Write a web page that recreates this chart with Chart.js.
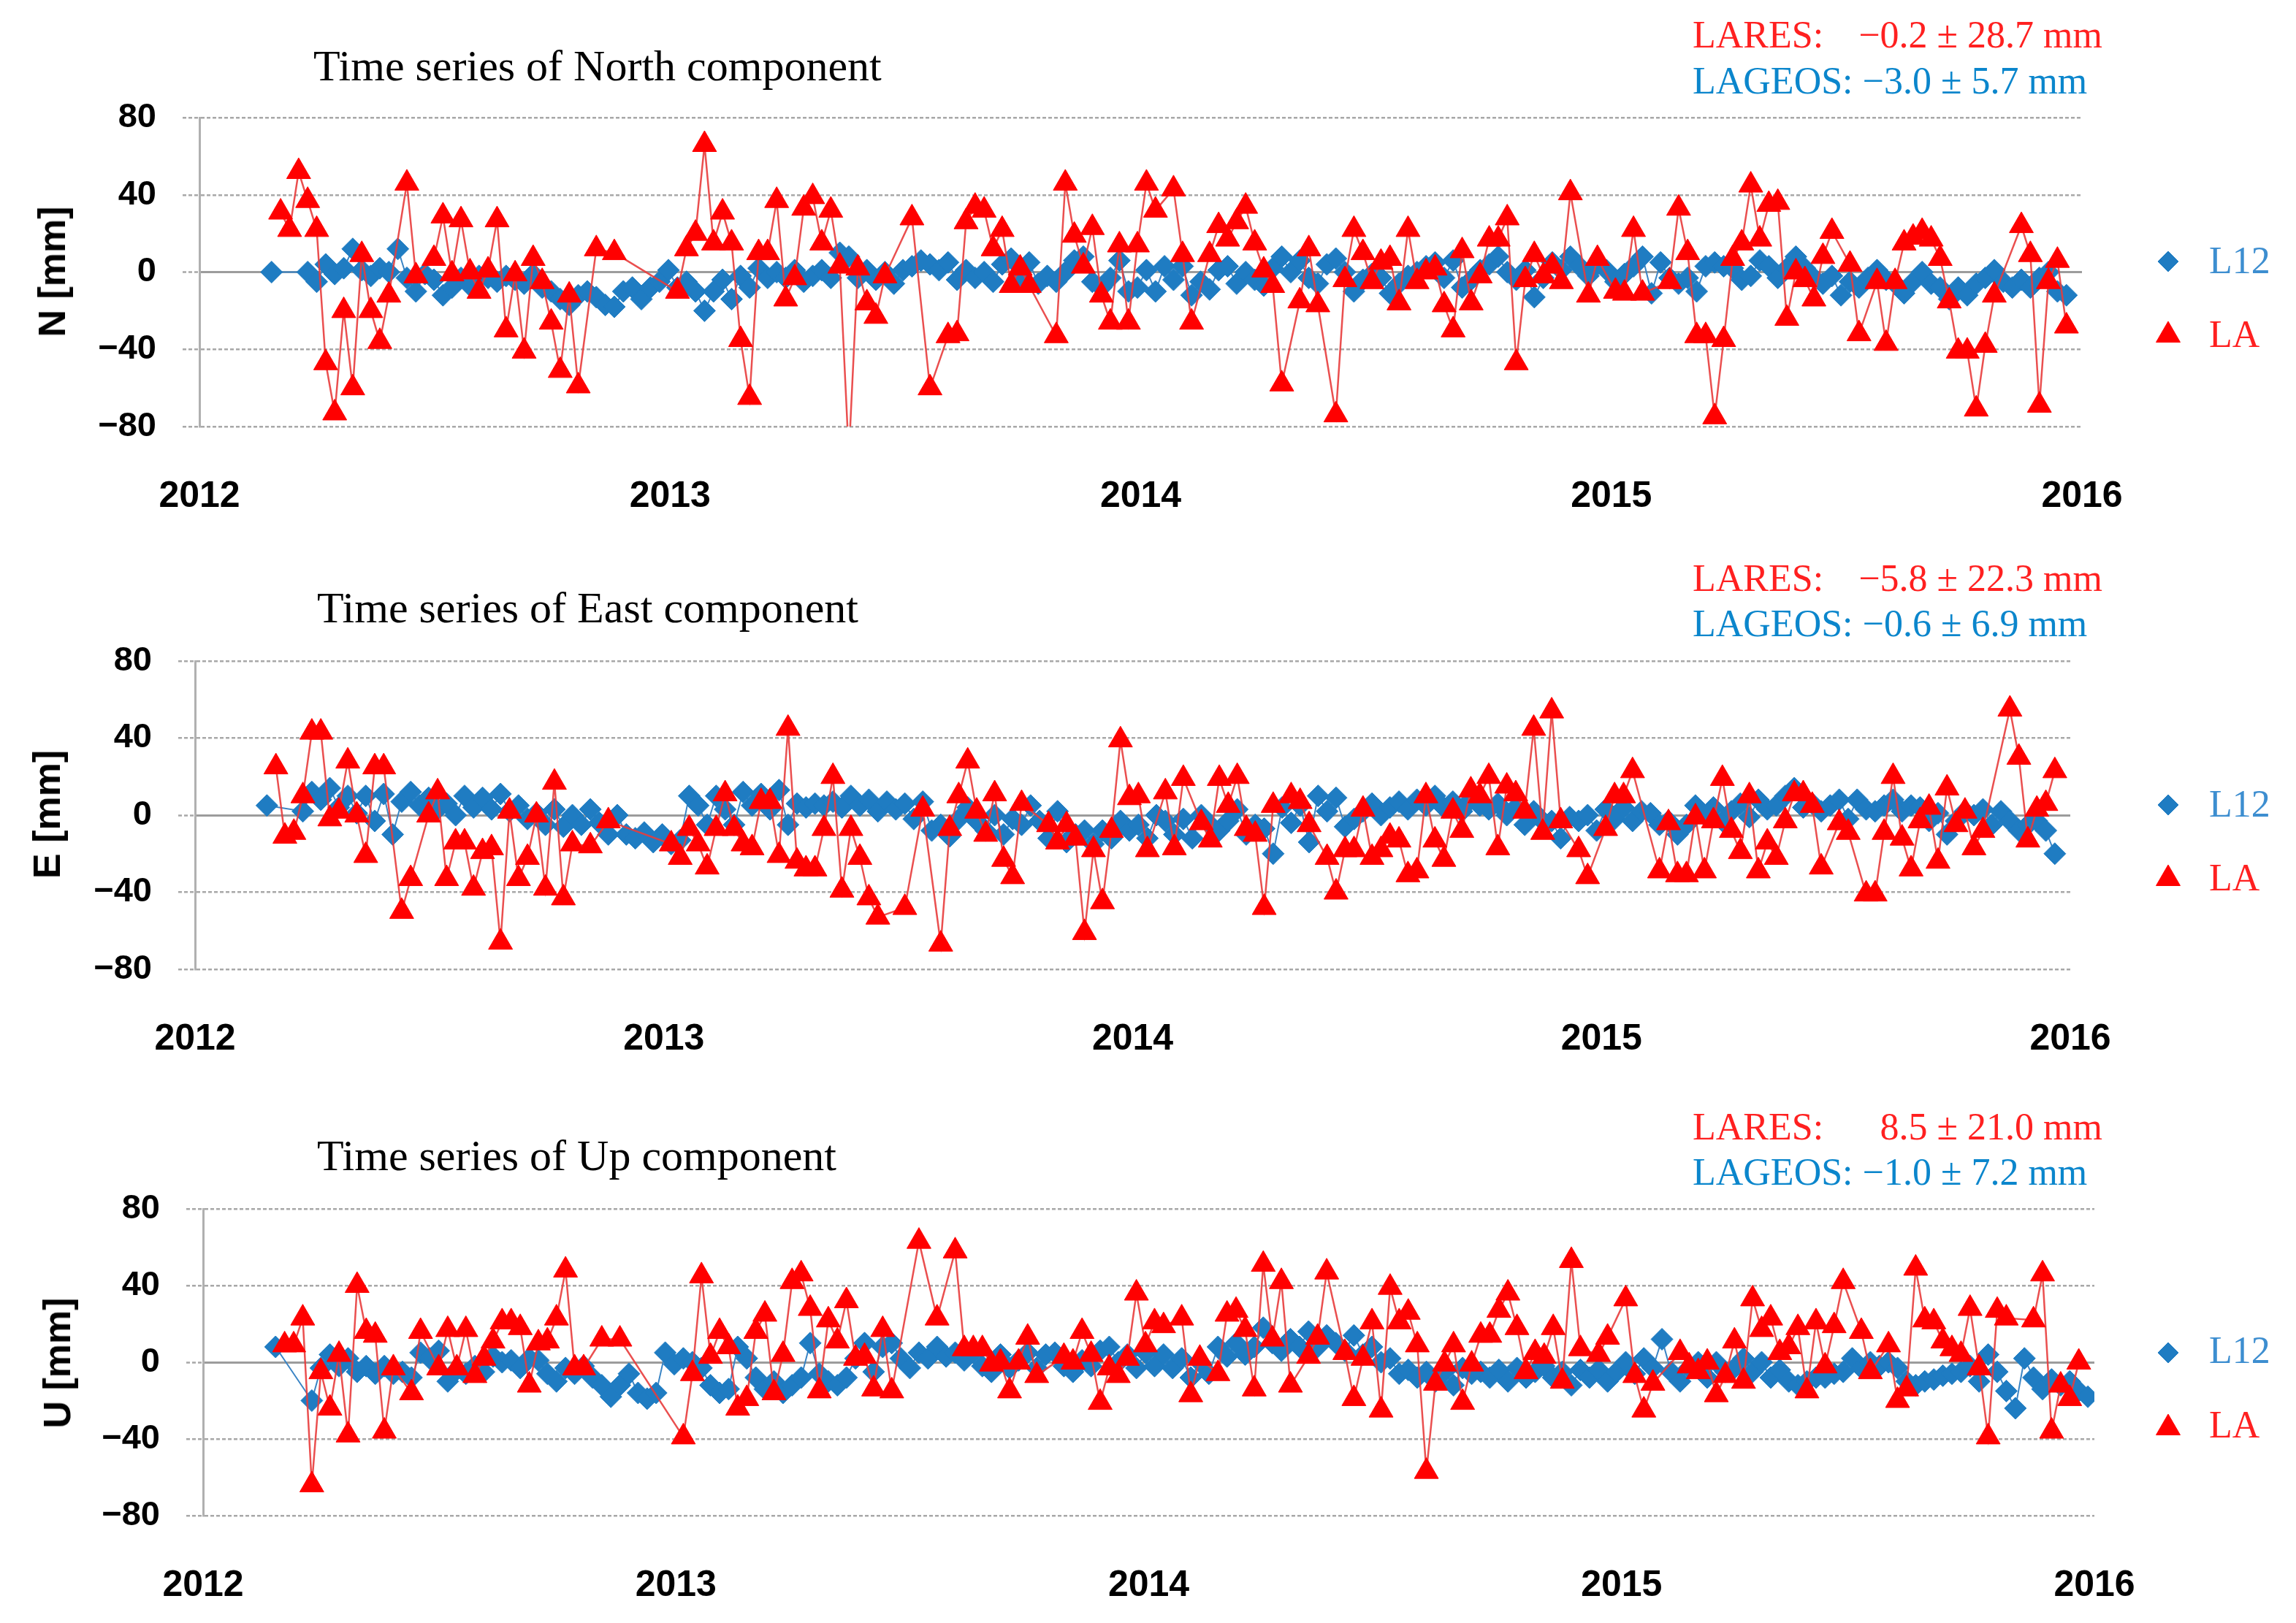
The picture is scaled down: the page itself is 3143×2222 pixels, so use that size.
<!DOCTYPE html>
<html>
<head>
<meta charset="utf-8">
<script src="https://cdn.jsdelivr.net/npm/chart.js@4.4.1/dist/chart.umd.min.js"></script>
<style>
  body { margin: 0; background: #fff; }
  #page { position: relative; width: 3143px; height: 2222px; overflow: hidden; background: #fff; }
  canvas { position: absolute; left: 0; }
  .t { position: absolute; white-space: nowrap; line-height: 1; font-family: 'Liberation Serif', 'Times New Roman', serif; }
  .title { font-size: 60px; color: #000; }
  .stat { font-size: 52px; }
  .red { color: #ff2020; }
  .blue { color: #0b86cc; }
  .lgblue { color: #3d8ed0; }
  .ylab { position: absolute; white-space: nowrap; line-height: 1; font: bold 52px 'Liberation Sans', Arial, sans-serif; transform: translate(-50%, -50%) rotate(-90deg); }
</style>
</head>
<body>
<div id="page">
  <canvas id="cN" width="3143" height="740" style="top:0px"></canvas>
  <canvas id="cE" width="3143" height="750" style="top:740px"></canvas>
  <canvas id="cU" width="3143" height="732" style="top:1490px"></canvas>

  <!-- North -->
  <div class="t title" style="left:429px; top:60px">Time series of North component</div>
  <div class="t stat red" style="left:2317px; top:22px">LARES:</div>
  <div class="t stat red" style="right:265px; top:22px">−0.2 ± 28.7 mm</div>
  <div class="t stat blue" style="left:2317px; top:85px">LAGEOS: −3.0 ± 5.7 mm</div>
  <div class="ylab" style="left:71px; top:372px">N [mm]</div>
  <div class="t stat lgblue" style="left:3024px; top:331px">L12</div>
  <div class="t stat red" style="left:3024px; top:432px">LA</div>

  <!-- East -->
  <div class="t title" style="left:434px; top:802px">Time series of East component</div>
  <div class="t stat red" style="left:2317px; top:766px">LARES:</div>
  <div class="t stat red" style="right:265px; top:766px">−5.8 ± 22.3 mm</div>
  <div class="t stat blue" style="left:2317px; top:828px">LAGEOS: −0.6 ± 6.9 mm</div>
  <div class="ylab" style="left:64px; top:1115px">E [mm]</div>
  <div class="t stat lgblue" style="left:3024px; top:1075px">L12</div>
  <div class="t stat red" style="left:3024px; top:1176px">LA</div>

  <!-- Up -->
  <div class="t title" style="left:434px; top:1552px">Time series of Up component</div>
  <div class="t stat red" style="left:2317px; top:1517px">LARES:</div>
  <div class="t stat red" style="right:265px; top:1517px">8.5 ± 21.0 mm</div>
  <div class="t stat blue" style="left:2317px; top:1579px">LAGEOS: −1.0 ± 7.2 mm</div>
  <div class="ylab" style="left:78px; top:1866px">U [mm]</div>
  <div class="t stat lgblue" style="left:3024px; top:1823px">L12</div>
  <div class="t stat red" style="left:3024px; top:1925px">LA</div>
</div>

<script>
// Ticks
const yearTicks = [2012, 2013, 2014, 2015, 2016];
const mmTicks = [-80, -40, 0, 40, 80];

// Weekly solutions, counted in weeks since 2012.0 (null = no solution that week)
const l12StartWeek = 8;
const laStartWeek = 9;

const l12North = [0, null, null, null,
  0, -5, 4, -1, 2, 12, 1, -2, 2, 0,
  12, -3, -10, -1, -4, -12, -8, -3, -7, -2,
  -3, -5, -2, -4, -6, -1, -8, -10, -14, -17,
  -12, -10, -13, -17, -18, -10, -8, -14, -8, -5,
  1, -8, -5, -10, -20, -10, -4, -14, -2, -8,
  2, -3, 0, -3, 1, -5, -2, 1, -3, 10,
  8, -3, 1, -4, 0, -6, 1, 3, 6, 4,
  1, 5, -4, 1, -3, 0, -5, 4, 7, -2,
  5, -6, -2, -5, 0, 6, 8, -5, -8, -3,
  6, -10,
  -8, 1, -10, 3, -4, 3, -12, -5, -9, 1,
  3, -6, 0, -4, -7, 2, 8, 0, 6, -3,
  -6, 4, 7, 0, -10, -4, -1, -3, -11, -6,
  -2, 0, 3, 5, -3, 6, -8, -4, 1, 4,
  8, 0, -4, 1, -13, -3, 5, 1, 8, 3,
  -2, 4, 1, -5, -1, 3, 8, -11, 5, -3,
  -6, -3, -10, 3, 5, 3, 2, -4, -2, 6,
  3, -3, 2, 8, 2, -3, -6, -2, -12, -5,
  -8, -3, 1, -4, -6, -11, -5, 0, -6, -8,
  -14, -8, -12, -6, -3, 1, -5, -8, -4, -8,
  -3, 0, -10, -12];

const laNorth = [31, 22, 52, 37, 22, -47, -73, -20, -60, 9, -20, -36, -12,
  null, 46, -2, null,
  7, 29, -1, 27, 0, -10, 1, 27, -30, -1, -41, 7, -5, -26, -51, -12, -59,
  null, 12, null, 10,
  null, null, null, null, null, null,
  -10, 12, 20, 66, 15, 31, 15, -35, -65, 10, 10, 37, -14, -3, 33, 39, 15, 32, 3, -95, 2, -16, -23, -2,
  null, null, 28, null, -60, null,
  -33, -32, 26, 34, 32, 12, 22, -7, 2, -7,
  null, null,
  -33, 46, 19, 3, 23, -12, -26, 14, -26, 14, 46, 32,
  null, 43, 9, -26, null,
  9, 24, 17, 26, 34, 15, 1, -7, -58,
  null, -15, 12, -17, null,
  -74, -4, 22, 10, -5, 5, 7, -16, 22, -5, 0, 2, -17, -30, 11, -16, -2, 17, 17, 28, -47, -4, 9, -2, 3, -5, 41,
  null, -12, 7, null,
  -10, -11, 22, -11,
  null, null,
  -5, 33, 10, -33, -33, -75, -35, 7, 15, 45, 17, 35, 36, -24, 0, -4, -14, 8, 21,
  null, 4, -32, null,
  -5, -37, -5, 15, 18, 21, 17, 7, -15, -41, -41, -71, -38, -12,
  null, null,
  24, 9, -69, -5, 6, -28];

const l12East = [5, null, null, null,
  2, 12, 8, 14, 4, 10, 1, 10, -3, 11,
  -10, 7, 12, 5, 9, 3, 6, 0, 10, 4,
  9, 3, 11, 2, 5, -2, 1, -5, 3, -6,
  0, -5, 3, -4, -10, 0, -10, -12, -9, -14,
  -10, -15, -13, 10, 5, -5, 10, 3, -5, 12,
  5, 11, 3, 13, -5, 6, 4, 6, 5, 7,
  4, 10, 5, 8, 2, 7, 3, 6, -2, 7,
  -8, -5, -11, -2, 4, -3, -8, 0, -10, -2,
  -5, 5, -3, -12, 2, -14, -10, -8, -15, -8,
  -12, -3,
  -8, -5, -12, 0, -3, -10, -2, -12, 0, -5,
  -8, -3, 3, -10, -5, -7, -20, 4, -4, 5,
  -14, 10, 2, 9, -6, -2, 2, 6, 0, 4,
  7, 3, 8, 5, 10, 4, 7, 2, 8, 5,
  3, 6, 0, 4, -5, 2, -3, -3, -12, -1,
  -3, 0, -8, 3, -2, 4, -3, 2, 1, -5,
  -3, -10, -5, 5, 0, 4, -3, 2, 6, -1,
  8, 3, 5, 10, 14, 4, 6, 2, 5, 8,
  -2, 8, 3, 2, 5, 8, 2, 5, 4, -3,
  1, -10, -3, 2, 0, 3, -5, 2, -3, -8,
  -5, -3, -8, -20];

const laEast = [25, -11, -9, 10, 43, 43, -2, 2, 28, 0, -21, 25, 25,
  null, -50, -33, null,
  0, 12, -33, -14, -14, -38, -19, -17, -66, 2, -33, -22, 0, -38, 17, -43, -15,
  null, -16, null, -3,
  null, null, null, null, null, null,
  -15, -22, -7, -15, -27, -7, 11, -7, -15, -17, 7, 7, -21, 45, -24, -28, -28, -7, 20, -39, -7, -22, -43, -53,
  null, null, -48, null, 3, null,
  -67, -7, 10, 28, 2, -10, 11, -23, -32, 6,
  null, null,
  -5, -14, -5, -12, -61, -18, -45, -8, 39, 9, 10, -18,
  null, 12, -17, 19, null,
  -4, -13, 19, 5, 20, -7, -10, -48, 5,
  null, 10, 7, -5, null,
  -22, -40, -18, -18, 3, -22, -18, -11, -13, -31, -29, 10, -13, -23, 2, -8, 13, 10, 20, -17, 15, 11, 2, 45, -9, 54, -3,
  null, -18, -32, null,
  -7, 10, 10, 23,
  null, null,
  -29, -4, -31, -31, -1, -29, -3, 19, -8, -19, 10, -29, -14, -22, -3, 11, 11, 5, -27,
  null, -4, -9, null,
  -41, -41, -9, 20, -12, -28, -3, 4, -24, 14, -5, 2, -17, -8,
  null, null,
  55, 30, -13, 3, 6, 23];

const l12Up = [8, null, null, null,
  -20, -3, 4, -2, 2, -5, -2, -6, -2, -6,
  -5, -8, 5, 2, 6, -10, -4, -6, -2, -5,
  3, 0, 1, -3, 2, 1, -6, -10, -3, -6,
  -2, -8, -12, -18, -12, -6, -16, -19, -16, 5,
  -1, 2, 0, -3, -12, -16, -14, 8, 2, -8,
  -14, -10, -16, -12, -8, 10, -6, -10, -12, -8,
  2, 10, -5, 8, 10, 2, -3, 5, 2, 8,
  3, 5, 1, 5, -2, -5, 4, -3, 1, 5,
  -3, 4, 5, -2, -5, 1, -2, 6, 8, 0,
  4, -3,
  5, -2, 4, -3, 2, -8, 0, -6, 8, 3,
  10, 4, 8, 18, 10, 6, 12, 8, 16, 8,
  14, 10, 6, 14, 4, 8, 0, 2, -6, -4,
  -8, -5, -10, -5, -12, -3, -6, -5, -8, -4,
  -10, -3, -8, -5, -2, -8, -5, -12, -4, -8,
  -4, -10, -5, 0, -6, 2, -3, 12, -5, -10,
  -3, 0, -8, 0, -5, -3, 2, -5, 0, -8,
  -4, -10, -12, -10, -8, -8, -6, -5, 2, -3,
  0, -2, 0, -3, -10, -12, -10, -9, -7, -6,
  -5, -2, -10, 4, -5, -15, -24, 2, -8, -14,
  -9, -12, -10, -15, -18];

const laUp = [9, 9, 23, -64, -5, -24, 4, -38, 40, 16, 14, -36, -3,
  null, -16, 16, null,
  -3, 17, -3, 17, -7, 2, 11, 21, 21, 18, -12, 10, 11, 23, 48, -3, -3,
  null, 12, null, 12,
  null, null, null, null, null, null,
  -39, -6, 45, 3, 16, 8, -24, -19, 16, 25, -16, 4, 42, 46, 28, -15, 22, 11, 32, 2, 3, -14, 17, -15,
  null, null, 63, null, 23, null,
  58, 7, 7, 7, -1, 0, -15, 0, 13, -7,
  null, null,
  3, 0, 16, 4, -21, -3, -7, 2, 36, 9, 21, 19,
  null, 23, -17, 2, null,
  -6, 25, 27, 17, -14, 51, 12, 42, -12,
  null, 3, 13, 47, null,
  5, -19, 2, 21, -25, 39, 21, 26, 9, -57, -11, -1, 9, -21, -1, 14, 14, 27, 36, 18, -5, 5, 3, 18, -10, 53, 7,
  null, 4, 13, null,
  33, -7, -25, -11,
  null, null,
  5, -2, -5, 0, -17, -7, 11, -10, 33, 17, 23, 5, 8, 18, -15, 21, -2, 19, 42,
  null, 16, -5, null,
  9, -20, -14, 49, 22, 21, 11, 7, 4, 28, -3, -39, 27, 23,
  null, null,
  22, 46, -36, -12, -19, 0];

const BLUE = '#1f7cc2';
const RED = '#ff0000';

// week index -> decimal year
function toPoints(startWeek, values) {
  return values.map((v, i) => ({ x: 2012 + (startWeek + i) / 52.18, y: v }));
}

function mmLabel(v) {
  return v < 0 ? '\u2212' + Math.abs(v) : String(v);
}

// legend markers, drawn on the right of each panel
const legendMarks = {
  id: 'legendMarks',
  afterDraw(chart, args, opts) {
    const ctx = chart.ctx;
    ctx.save();
    ctx.fillStyle = BLUE;
    ctx.strokeStyle = BLUE;
    ctx.lineWidth = 1;
    Chart.helpers.drawPoint(ctx, { pointStyle: 'rectRot', radius: 14, rotation: 0, borderWidth: 1 }, opts.x, opts.y1);
    ctx.fillStyle = RED;
    ctx.strokeStyle = RED;
    Chart.helpers.drawPoint(ctx, { pointStyle: 'triangle', radius: 19, rotation: 0, borderWidth: 1 }, opts.x, opts.y2);
    ctx.restore();
  }
};

function makePanel(id, area, l12, la, legendY) {
  const canvas = document.getElementById(id);
  const W = canvas.width, H = canvas.height;
  return new Chart(canvas, {
    type: 'line',
    data: {
      datasets: [
        {
          label: 'LA',
          data: toPoints(laStartWeek, la),
          order: 0,
          borderColor: 'rgba(232,60,60,0.9)',
          borderWidth: 2.5,
          pointStyle: 'triangle',
          pointRadius: 19,
          pointBackgroundColor: RED,
          pointBorderColor: RED,
          pointBorderWidth: 1,
          spanGaps: true,
          tension: 0
        },
        {
          label: 'L12',
          data: toPoints(l12StartWeek, l12),
          order: 1,
          borderColor: '#3a84c4',
          borderWidth: 2,
          pointStyle: 'rectRot',
          pointRadius: 15,
          pointBackgroundColor: BLUE,
          pointBorderColor: BLUE,
          pointBorderWidth: 1,
          spanGaps: true,
          tension: 0
        }
      ]
    },
    options: {
      responsive: false,
      devicePixelRatio: 1,
      animation: false,
      events: [],
      layout: { padding: { left: 0, top: area.top, right: W - area.right, bottom: 0 } },
      plugins: {
        legend: { display: false },
        tooltip: { enabled: false },
        legendMarks: { x: 2968, y1: legendY[0], y2: legendY[1] }
      },
      scales: {
        x: {
          type: 'linear',
          min: 2012,
          max: 2016,
          afterBuildTicks: s => { s.ticks = yearTicks.map(v => ({ value: v })); },
          afterFit: s => { s.height = H - area.bottom; },
          grid: { display: false, drawTicks: false },
          border: { display: false },
          ticks: {
            padding: 66,
            color: '#000',
            maxRotation: 0,
            font: { family: "'Liberation Sans', Arial, sans-serif", size: 50, weight: 'bold' },
            callback: v => String(v)
          }
        },
        y: {
          min: -80,
          max: 80,
          afterBuildTicks: s => { s.ticks = mmTicks.map(v => ({ value: v })); },
          afterFit: s => { s.width = area.left; },
          grid: {
            color: c => (c.tick && c.tick.value === 0) ? '#9c9c9c' : '#a8a8a8',
            lineWidth: c => (c.tick && c.tick.value === 0) ? 3 : 2.5,
            tickColor: '#a8a8a8',
            tickLength: 23,
            tickWidth: 2.5,
            tickBorderDash: [5, 3]
          },
          border: {
            display: true,
            color: '#b0b0b0',
            width: 3,
            dash: c => (c.tick && c.tick.value === 0) ? [] : [5, 3]
          },
          ticks: {
            padding: 36,
            color: '#000',
            font: { family: "'Liberation Sans', Arial, sans-serif", size: 47, weight: 'bold' },
            callback: v => mmLabel(v)
          }
        }
      }
    },
    plugins: [legendMarks]
  });
}

makePanel('cN', { left: 273, right: 2850, top: 161, bottom: 584 }, l12North, laNorth, [358, 459]);
makePanel('cE', { left: 267, right: 2834, top: 165, bottom: 587 }, l12East, laEast, [362, 463]);
makePanel('cU', { left: 278, right: 2867, top: 165, bottom: 585 }, l12Up, laUp, [362, 465]);
</script>
</body>
</html>
